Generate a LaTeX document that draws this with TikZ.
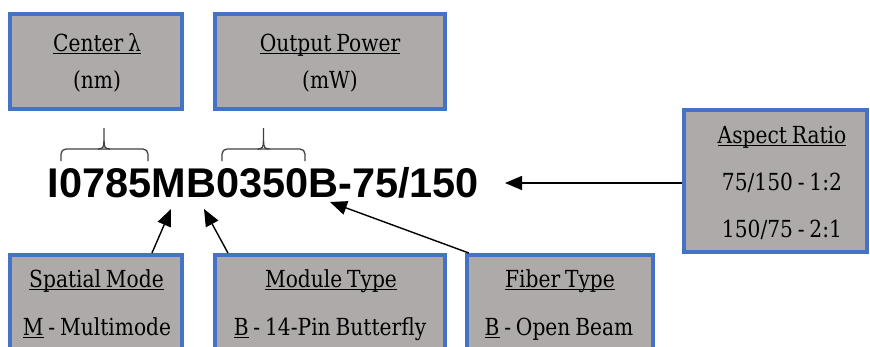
\documentclass[tikz,border=0pt]{standalone}
\usepackage{fontspec}
\setmainfont{DejaVu Serif}[FakeStretch=0.86,WordSpace=0.75]
\newfontfamily\codefont{Liberation Sans}
\usetikzlibrary{arrows.meta,calc}
\definecolor{boxblue}{HTML}{4472C4}
\definecolor{boxgray}{HTML}{AEAAAA}
\newcommand{\undr}[1]{\setbox0\hbox{#1}\rlap{\rule[-3pt]{\wd0}{1.5pt}}\box0\relax}

\begin{document}
\begin{tikzpicture}[x=1pt,y=-1pt,
    box/.style={draw=boxblue,line width=4pt,fill=boxgray,inner sep=0pt},
    txt/.style={anchor=base,inner sep=0pt,font=\fontsize{23.5}{27}\selectfont},
    arr/.style={line width=1.4pt,-{Triangle[length=17pt,width=14pt]}},
    brc/.style={draw=black!75,line width=1.3pt}]
    \useasboundingbox (0,0) rectangle (870,346);

    % boxes
    \node[box,minimum width=172pt,minimum height=95pt] (lam) at (96,61.5) {};
    \node[box,minimum width=230pt,minimum height=95pt] (pow) at (330,61.5) {};
    \node[box,minimum width=183pt,minimum height=142pt] (asp) at (775.5,181) {};
    \node[box,minimum width=172pt,minimum height=110pt] (spa) at (96,310) {};
    \node[box,minimum width=230pt,minimum height=110pt] (mod) at (330,310) {};
    \node[box,minimum width=186pt,minimum height=110pt] (fib) at (560,310) {};

    % box texts
    \node[txt] (lamhead) at (97,51) {\undr{Center λ}};
    \node[txt] (lamunit) at (97,88) {(nm)};
    \node[txt] (powhead) at (330,51) {\undr{Output Power}};
    \node[txt] (powunit) at (330,88) {(mW)};
    \node[txt] (asphead) at (782,143) {\undr{Aspect Ratio}};
    \node[txt] (aspone) at (782,190) {75/150 - 1:2};
    \node[txt] (asptwo) at (782,237) {150/75 - 2:1};
    \node[txt] (spahead) at (96.5,287) {\undr{Spatial Mode}};
    \node[txt] (spaval) at (97,335) {\undr{M} - Multimode};
    \node[txt] (modhead) at (331,287) {\undr{Module Type}};
    \node[txt] (modval) at (330,335) {\undr{B} - 14-Pin Butterfly};
    \node[txt] (fibhead) at (560,287) {\undr{Fiber Type}};
    \node[txt] (fibval) at (559,335) {\undr{B} - Open Beam};

    % part number
    \node[anchor=base west,inner sep=0pt,font=\codefont\bfseries\fontsize{41.5}{45}\selectfont] (code) at (47.5,197) {I0785MB0350B-75/150};
    \foreach \xa/\xm/\xb in {61/104/148, 222/263.5/305} {
        \draw[brc,rounded corners=5pt] (\xa,161) -- (\xa,149) -- (\xm,149);
        \draw[brc,rounded corners=5pt] (\xb,161) -- (\xb,149) -- (\xm,149);
        \draw[brc] (\xm-6,149) .. controls (\xm-1,149) and (\xm,147) .. (\xm,141) -- (\xm,128);
        \draw[brc] (\xm+6,149) .. controls (\xm+1,149) and (\xm,147) .. (\xm,141);
    }

    \coordinate (tipM) at (171,209);
    \coordinate (tipB) at (204,209);
    \coordinate (tipF) at (330,202);
    \coordinate (tipAR) at (505,183);

    \draw[arr] ($(spa.north west)!0.818!(spa.north east)$) -- (tipM);
    \draw[arr] ($(mod.north west)!0.064!(mod.north east)$) -- (tipB);
    \draw[arr] ($(fib.north west)!0.02!(fib.north east)$) -- (tipF);
    \draw[arr] (tipAR -| asp.west) -- (tipAR);
\end{tikzpicture}
\end{document}
